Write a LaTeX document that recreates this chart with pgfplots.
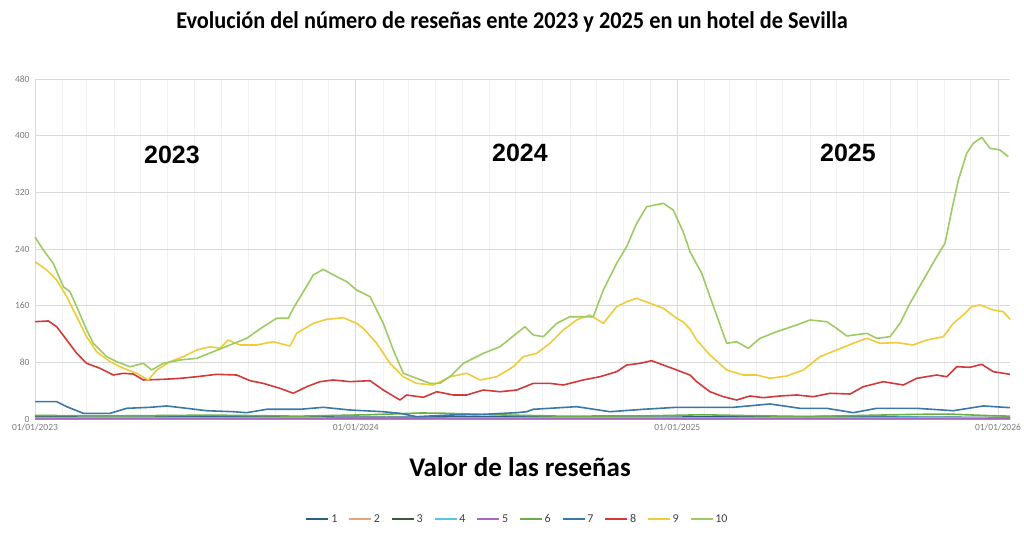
\documentclass[border=0pt]{standalone}
\usepackage{pgfplots}
\pgfplotsset{compat=1.18}
\usepackage{fontspec}
\setmainfont{Carlito}
\newfontfamily\titlefont[FakeStretch=0.93]{Carlito}
\newfontfamily\yearfont{Liberation Sans}
\definecolor{c1}{HTML}{2B5F7F}
\definecolor{c2}{HTML}{E8A27C}
\definecolor{c3}{HTML}{3E5A3E}
\definecolor{c4}{HTML}{5BC4DE}
\definecolor{c5}{HTML}{A569BD}
\definecolor{c6}{HTML}{6AAE45}
\definecolor{c7}{HTML}{3A78A8}
\definecolor{c8}{HTML}{D13A3A}
\definecolor{c9}{HTML}{EFCB3A}
\definecolor{c10}{HTML}{9CCB64}
\definecolor{tickgray}{HTML}{7A7A7A}
\definecolor{leggray}{HTML}{404040}
\begin{document}
\begin{tikzpicture}[x=1pt,y=1pt]
\useasboundingbox (0,0) rectangle (1024,544);
\node[font=\titlefont\bfseries\fontsize{24}{28}\selectfont] at (512,522) {Evolución del número de reseñas ente 2023 y 2025 en un hotel de Sevilla};
\node[font=\bfseries\fontsize{27}{30}\selectfont] at (520,77) {Valor de las reseñas};
\begin{axis}[
  at={(35pt,125pt)}, anchor=south west,
  width=975pt, height=340pt, scale only axis,
  xmin=0, xmax=1109.7, ymin=0, ymax=480,
  ytick={0,80,...,480},
  xtick={0,365,731,1096},
  xticklabels={01/01/2023,01/01/2024,01/01/2025,01/01/2026},
  minor xtick={31,59,90,120,151,181,212,243,273,304,334,396,425,456,486,517,547,578,609,639,670,700,762,790,821,851,882,912,943,974,1004,1035,1065},
  grid=both,
  major grid style={draw=black!15, line width=0.9pt},
  minor grid style={draw=black!5, line width=0.7pt},
  axis line style={draw=none},
  major tick length=0pt, minor tick length=0pt,
  /pgf/number format/assume math mode=true,
  ticklabel style={font=\fontsize{9.5}{11}\selectfont, text=tickgray},
  yticklabel style={xshift=-2pt},
  xticklabel style={yshift=-1pt},
  clip=false,
  every axis plot/.append style={line width=1.6pt, line join=round},
  legend style={at={(0.495,-0.294)}, anchor=center, legend columns=10, draw=none, fill=none,
    font=\fontsize{12}{14}\selectfont, text=leggray,
    /tikz/every even column/.append style={column sep=9pt}},
  legend image code/.code={\draw[#1, line width=1.6pt] (0pt,0pt) -- (22pt,0pt);},
]
% series 1
\addplot[c1] coordinates {(0,3) (100,2.5) (200,3.2) (300,3) (400,2.4) (500,3.5) (600,3) (700,2.5) (800,3.2) (900,3.5) (1000,2.8) (1109.7,2)};
\addlegendentry{1}
% series 2
\addplot[c2] coordinates {(0,0.4) (300,0.5) (600,0.3) (900,0.5) (1109.7,0.4)};
\addlegendentry{2}
% series 3
\addplot[c3] coordinates {(0,1) (150,1.4) (300,0.8) (450,1.2) (600,1.2) (750,0.9) (900,1) (1109.7,1)};
\addlegendentry{3}
% series 4
\addplot[c4] coordinates {(0,1.5) (200,2) (400,1) (600,2) (800,1.5) (1000,2.5) (1109.7,1)};
\addlegendentry{4}
% series 5
\addplot[c5] coordinates {(0,0.2) (400,0.3) (800,0.2) (1109.7,0.2)};
\addlegendentry{5}
% series 6
\addplot[c6] coordinates {(0,5) (100,4.5) (200,5.5) (300,4) (380,6) (440,8.5) (470,8) (520,6) (600,4) (700,4.5) (760,6) (800,5) (880,3.5) (1000,6.5) (1040,7) (1080,5) (1109.7,4)};
\addlegendentry{6}
% series 7
\addplot[c7] coordinates {(0,24.5) (24.7,24.5) (36.1,17.4) (55,8) (85.4,8) (104.4,15.1) (130.9,16.5) (149.9,18.4) (172.7,15.1) (195.4,11.7) (225.7,10.3) (240.9,8.9) (263.7,13.7) (301.6,13.7) (328.1,16.5) (358.5,12.7) (396.4,10.3) (415.4,8) (434.4,3.3) (472.3,5.6) (510.2,6.6) (548.2,8.9) (559.6,10.3) (567.1,13.7) (616.5,17.4) (654.4,10.3) (692.3,13.7) (730.3,16.5) (794.8,16.5) (836.5,21.2) (870.7,15.1) (901,15.1) (931.3,8.9) (958,15.1) (1003.5,15.1) (1045.1,11.7) (1079.3,18.4) (1109.7,16)};
\addlegendentry{7}
% series 8
\addplot[c8] coordinates {(0,137.4) (15.1,138.4) (24.7,130.3) (36.1,111.5) (47.5,92.7) (58.8,78.6) (74,71.6) (89.1,62.1) (100.5,64.5) (111.9,63.5) (123.3,55.1) (146,56) (165,57.4) (184,59.7) (206.8,63.1) (229.6,62.1) (244.7,54.1) (259.8,50.3) (278.8,43.3) (294,36.3) (309.2,45.6) (324.4,52.7) (339.5,55.1) (358.5,52.7) (381.3,54.1) (396.4,40.9) (415.4,26.8) (423,33.9) (441.9,30.6) (457.2,38.5) (476.1,33.9) (491.3,33.9) (510.2,40.9) (529.2,38.5) (548.2,40.9) (567.1,50.3) (586.1,50.3) (601.3,48) (624,55.1) (643,59.7) (662,66.8) (673.4,76.2) (688.6,78.6) (701.9,82.3) (715.1,76.2) (730.3,69.2) (745.5,62) (753.1,52.7) (768.2,38.5) (783.4,31.5) (798.6,26.8) (813.7,32.5) (828.9,30.1) (847.9,32.5) (866.9,33.9) (885.8,31.5) (904.8,36.3) (927.6,35.3) (942.7,45.6) (965.5,52.7) (988.2,48) (1003.5,57.4) (1026.3,62.1) (1037.6,59.7) (1049,73.8) (1064.1,73) (1077.5,77.2) (1090.7,66.8) (1109.7,63.1)};
\addlegendentry{8}
% series 9
\addplot[c9] coordinates {(0,222) (13.3,210.4) (24.7,196.2) (36.1,172.7) (47.5,144.4) (58.8,116.2) (70.2,95) (85.4,80.9) (100.5,71.6) (115.7,64.5) (128.9,55.1) (138.5,69.2) (153.6,80.9) (168.8,88) (184,97.4) (199.2,102) (210.6,99.8) (220,111.5) (233.3,104.5) (252.3,104.5) (271.2,109.1) (290.2,103) (297.8,121) (316.7,135) (332,140.8) (350.9,143) (366.1,135) (373.6,128) (388.9,106.9) (404,78.6) (419.2,59.7) (434.4,50.3) (453.3,48) (472.3,59.7) (491.3,64.5) (506.5,55.1) (525.5,59.7) (544.4,73.8) (555.8,88) (571,92.7) (586.1,106.9) (601.3,125.6) (616.5,139.8) (631.6,146.8) (646.8,135) (662,158.6) (673.4,165.6) (684.8,170.4) (700,163.3) (715.1,156.3) (730.3,142.2) (737.8,137) (745.5,127) (753.1,111.5) (768.2,90.4) (787.2,69.2) (806.1,62.1) (821.4,62.1) (836.5,57.4) (855.5,60.7) (874.5,69.2) (893.4,88) (912.4,97.4) (931.3,106.9) (946.6,113.9) (961.7,106.9) (980.7,107.8) (999.6,104.5) (1014.9,111.5) (1033.8,116.2) (1045.1,135) (1056.5,146.8) (1066.1,158.6) (1075.5,161) (1090.7,153.9) (1102,151.5) (1109.7,140.8)};
\addlegendentry{9}
% series 10
\addplot[c10] coordinates {(0,257) (9.4,238.6) (20.8,219.8) (32.2,186.8) (39.8,179.7) (47.5,158.6) (58.8,125.6) (66.4,106.9) (81.6,88) (93,80.9) (108.1,73.8) (123.3,78.6) (132.8,69.2) (146,78.6) (165,83.3) (184,85.7) (202.9,95) (221.9,104.5) (240.9,113.9) (259.8,130.3) (275.1,142.2) (288.3,142.2) (294,156.3) (305.4,179.7) (316.7,203.3) (328.1,211.3) (343.4,200.9) (354.8,193.9) (366.1,182) (381.3,172.7) (396.4,135) (407.8,97.4) (419.2,64.5) (434.4,57.4) (449.6,50.3) (460.9,50.3) (472.3,59.7) (487.5,78.6) (510.2,92.7) (529.2,102) (548.2,121) (557.7,130.3) (567.1,118.6) (578.5,116.2) (593.8,135) (608.9,144.4) (624,144.4) (635.4,144.4) (646.8,182) (662,219.8) (673.4,243.3) (684.8,276.3) (696.2,299.7) (715.1,304.5) (726.4,295) (737.8,264) (745.5,236) (758.8,205.7) (768.2,172.7) (777.7,139.8) (787.2,106.9) (798.6,109.1) (811.8,99.8) (825.1,113.9) (844.2,123.3) (866.9,132.7) (882,139.8) (901,137.4) (912.4,128) (923.8,117.2) (946.6,121) (958,113.9) (973.1,116.2) (984.5,135) (995.9,163.3) (1011,196.2) (1026.3,229.1) (1035.7,248) (1043.4,295) (1050.9,337.4) (1060.4,375.1) (1067.9,389.2) (1077.5,397.7) (1086.9,382.2) (1098.3,379.8) (1107.7,370.3)};
\addlegendentry{10}
\node[font=\yearfont\bfseries\fontsize{25}{28}\selectfont] at (axis cs:155.9,372.7) {2023};
\node[font=\yearfont\bfseries\fontsize{25}{28}\selectfont] at (axis cs:552,375.5) {2024};
\node[font=\yearfont\bfseries\fontsize{25}{28}\selectfont] at (axis cs:925.3,375.5) {2025};
\end{axis}
\end{tikzpicture}
\end{document}
